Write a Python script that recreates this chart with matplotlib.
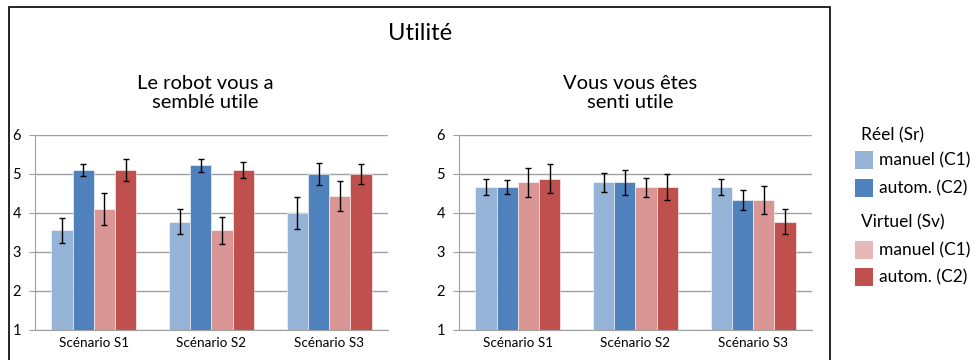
import numpy as np
import matplotlib.pyplot as plt
from matplotlib.patches import Rectangle

# données
scenarios = ["Scénario S1", "Scénario S2", "Scénario S3"]
series = ["manuel (C1)", "autom. (C2)", "manuel (C1)", "autom. (C2)"]

# Le robot vous a semblé utile
robot_reel_c1 = [3.55, 3.77, 4.00]
robot_reel_c2 = [5.10, 5.22, 5.00]
robot_virt_c1 = [4.10, 3.55, 4.44]
robot_virt_c2 = [5.10, 5.10, 5.00]
robot_err_reel_c1 = [0.31, 0.32, 0.42]
robot_err_reel_c2 = [0.16, 0.17, 0.28]
robot_err_virt_c1 = [0.41, 0.35, 0.38]
robot_err_virt_c2 = [0.27, 0.20, 0.25]

# Vous vous êtes senti utile
senti_reel_c1 = [4.66, 4.78, 4.66]
senti_reel_c2 = [4.66, 4.78, 4.33]
senti_virt_c1 = [4.78, 4.66, 4.33]
senti_virt_c2 = [4.88, 4.66, 3.77]
senti_err_reel_c1 = [0.21, 0.24, 0.21]
senti_err_reel_c2 = [0.18, 0.32, 0.25]
senti_err_virt_c1 = [0.37, 0.24, 0.35]
senti_err_virt_c2 = [0.37, 0.33, 0.32]

colors = ["#95B3D7", "#4F81BD", "#D99694", "#C0504D"]
legend_colors = ["#95B3D7", "#4F81BD", "#E6B9B8", "#C0504D"]

plt.rcParams['font.family'] = ['Lato', 'DejaVu Sans']

fig = plt.figure(figsize=(9.79, 3.6), dpi=100)

# cadre du graphique
fig.patches.append(Rectangle((9/979, -0.05), 821/979, 1.05 - 7/360, transform=fig.transFigure,
                             fill=False, edgecolor="black", linewidth=1.2))

fig.text(420/979, 1 - 33/360, "Utilité", ha="center", va="center", fontsize=17)


def panel(left, vals, errs, title, title_x):
    ax = fig.add_axes([left, 30/360 + 0.0003, 353/979, 195/360])
    x = np.arange(len(scenarios))
    w = 0.18
    for i in range(4):
        ax.bar(x + (i - 1.5) * w, np.array(vals[i]) - 1, w, bottom=1,
               color=colors[i], edgecolor="white", linewidth=0.4, zorder=2)
        ax.errorbar(x + (i - 1.5) * w, vals[i], yerr=errs[i], fmt="none",
                    ecolor="black", elinewidth=1, capsize=2.5, capthick=1, zorder=3)
    ax.set_xlim(-0.5, 2.5)
    ax.set_ylim(1, 6)
    ax.set_yticks([1, 2, 3, 4, 5, 6])
    ax.set_xticks(x)
    ax.set_xticklabels(scenarios, fontsize=9.7)
    ax.tick_params(axis="x", length=0, pad=5)
    ax.tick_params(axis="y", length=4, color="#A0A0A0", labelsize=10.5, pad=6)
    ax.grid(axis="y", color="#A0A0A0", linewidth=1, zorder=0)
    for s in ["top", "right"]:
        ax.spines[s].set_visible(False)
    for s in ["left", "bottom"]:
        ax.spines[s].set_color("#A0A0A0")
        ax.spines[s].set_zorder(4)
    fig.text(title_x / 979, 1 - 93/360, title, ha="center", va="center",
             fontsize=14.5, linespacing=1.15)
    return ax


panel(35/979,
      [robot_reel_c1, robot_reel_c2, robot_virt_c1, robot_virt_c2],
      [robot_err_reel_c1, robot_err_reel_c2, robot_err_virt_c1, robot_err_virt_c2],
      "Le robot vous a\nsemblé utile", 205)
panel(459/979,
      [senti_reel_c1, senti_reel_c2, senti_virt_c1, senti_virt_c2],
      [senti_err_reel_c1, senti_err_reel_c2, senti_err_virt_c1, senti_err_virt_c2],
      "Vous vous êtes\nsenti utile", 630)

# légende
legend_items = [("Réel (Sr)", None, 135), (series[0], legend_colors[0], 160),
                (series[1], legend_colors[1], 188), ("Virtuel (Sv)", None, 222),
                (series[2], legend_colors[2], 250), (series[3], legend_colors[3], 277)]
for label, c, y in legend_items:
    if c is None:
        fig.text(861/979, 1 - y/360, label, ha="left", va="center", fontsize=12.5)
    else:
        fig.patches.append(Rectangle((855/979, 1 - (y + 9)/360), 18/979, 18/360,
                                     transform=fig.transFigure, facecolor=c, edgecolor="none"))
        fig.text(879/979, 1 - y/360, label, ha="left", va="center", fontsize=12.5)

fig.savefig("out.png", dpi=100)
